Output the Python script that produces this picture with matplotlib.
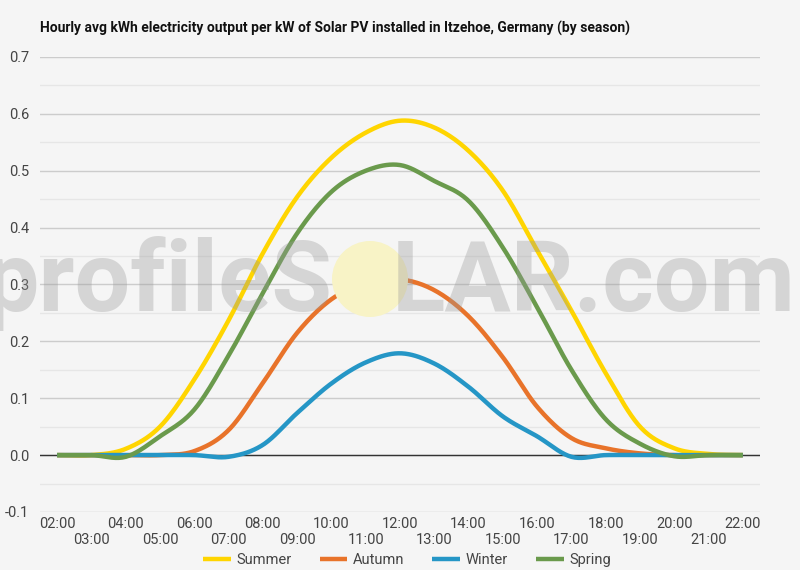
import numpy as np
import matplotlib.pyplot as plt
from matplotlib.patches import Ellipse

plt.rcParams['font.family'] = ['Roboto', 'DejaVu Sans']

hours = ['02:00', '03:00', '04:00', '05:00', '06:00', '07:00', '08:00', '09:00', '10:00',
         '11:00', '12:00', '13:00', '14:00', '15:00', '16:00', '17:00', '18:00', '19:00',
         '20:00', '21:00', '22:00']

summer = [0, 0, 0.011, 0.05, 0.133, 0.237, 0.355, 0.454, 0.523, 0.567, 0.588,
          0.576, 0.535, 0.465, 0.36, 0.254, 0.144, 0.05, 0.012, 0.002, 0]
autumn = [0, 0, 0, 0, 0.007, 0.044, 0.127, 0.215, 0.274, 0.302, 0.309,
          0.29, 0.244, 0.172, 0.085, 0.03, 0.012, 0.003, 0, 0, 0]
winter = [0, 0, 0, 0, 0, -0.003, 0.018, 0.074, 0.126, 0.163, 0.179,
          0.161, 0.12, 0.068, 0.033, -0.003, 0, 0, 0, 0, 0]
spring = [0, 0, -0.003, 0.033, 0.08, 0.175, 0.285, 0.39, 0.463, 0.5, 0.51,
          0.482, 0.447, 0.365, 0.26, 0.15, 0.063, 0.02, -0.002, 0, 0]

series = [('Summer', summer, '#FFD500'),
          ('Autumn', autumn, '#E8732A'),
          ('Winter', winter, '#2596C6'),
          ('Spring', spring, '#6A9A4C')]


def smooth(y, n=20):
    # catmull-rom spline through the points, like the "function" curve type
    y = np.asarray(y, dtype=float)
    p = np.concatenate([[y[0]], y, [y[-1]]])
    xs, ys = [], []
    t = np.linspace(0, 1, n, endpoint=False)
    for i in range(len(y) - 1):
        p0, p1, p2, p3 = p[i], p[i + 1], p[i + 2], p[i + 3]
        seg = 0.5 * (2 * p1 + (-p0 + p2) * t + (2 * p0 - 5 * p1 + 4 * p2 - p3) * t ** 2
                     + (-p0 + 3 * p1 - 3 * p2 + p3) * t ** 3)
        xs.extend(i + t)
        ys.extend(seg)
    xs.append(len(y) - 1)
    ys.append(y[-1])
    return np.array(xs), np.array(ys)


bg = '#F5F5F5'
fig = plt.figure(figsize=(8, 5.7), dpi=100, facecolor=bg)
ax = fig.add_axes([0.05, 0.1018, 0.90, 0.7982], facecolor=bg)

ax.set_ylim(-0.1, 0.7)
ax.set_xlim(-0.5, len(hours) - 0.5)
ax.set_yticks(np.arange(-0.1, 0.71, 0.1))
ax.set_yticklabels(['-0.1', '0.0', '0.1', '0.2', '0.3', '0.4', '0.5', '0.6', '0.7'])
ax.set_yticks(np.arange(-0.05, 0.7, 0.1), minor=True)
ax.grid(axis='y', which='major', color='#CCCCCC', lw=1)
ax.grid(axis='y', which='minor', color='#E6E6E6', lw=1)
ax.axhline(0, color='#333333', lw=1, zorder=2)
for s in ax.spines.values():
    s.set_visible(False)
ax.tick_params(axis='y', which='both', length=0, pad=8, labelsize=10.5, labelcolor='#444444')
ax.tick_params(axis='x', length=0, labelsize=10.5, labelcolor='#444444')

x = np.arange(len(hours))
ax.set_xticks(x)
ax.set_xticklabels([h if i % 2 == 0 else '\n' + h for i, h in enumerate(hours)])

for name, vals, col in series:
    sx, sy = smooth(vals)
    ax.plot(sx, sy, color=col, lw=3.2, label=name, solid_capstyle='butt', zorder=3)

# watermark: sun circle under the lines, letters over them
fig.patches.append(Ellipse((370 / 800, 1 - 279 / 570), 76 / 800, 76 / 570, transform=fig.transFigure,
                           facecolor='#F8F3C6', edgecolor='none', zorder=0.5))
wm = dict(fontsize=71, color='#9A9A9A', alpha=0.35, family=['Roboto', 'DejaVu Sans'],
          fontweight='bold', va='baseline', zorder=10)
fig.text(333 / 800, 1 - 311 / 570, 'profileS', ha='right', **wm)
fig.text(392 / 800, 1 - 311 / 570, 'LAR.com', ha='left', **wm)

fig.text(40 / 800, 1 - 28 / 570,
         'Hourly avg kWh electricity output per kW of Solar PV installed in Itzehoe, Germany (by season)',
         fontsize=10, fontweight='bold', color='#111111', va='center', ha='left')

leg = ax.legend(loc='center', bbox_to_anchor=(0.51, -0.105), bbox_transform=ax.transAxes,
                ncol=4, frameon=False, fontsize=10.5, handlelength=1.9, handletextpad=0.4,
                columnspacing=1.9)
for t in leg.get_texts():
    t.set_color('#444444')

fig.savefig('out.png', dpi=100, facecolor=bg)
